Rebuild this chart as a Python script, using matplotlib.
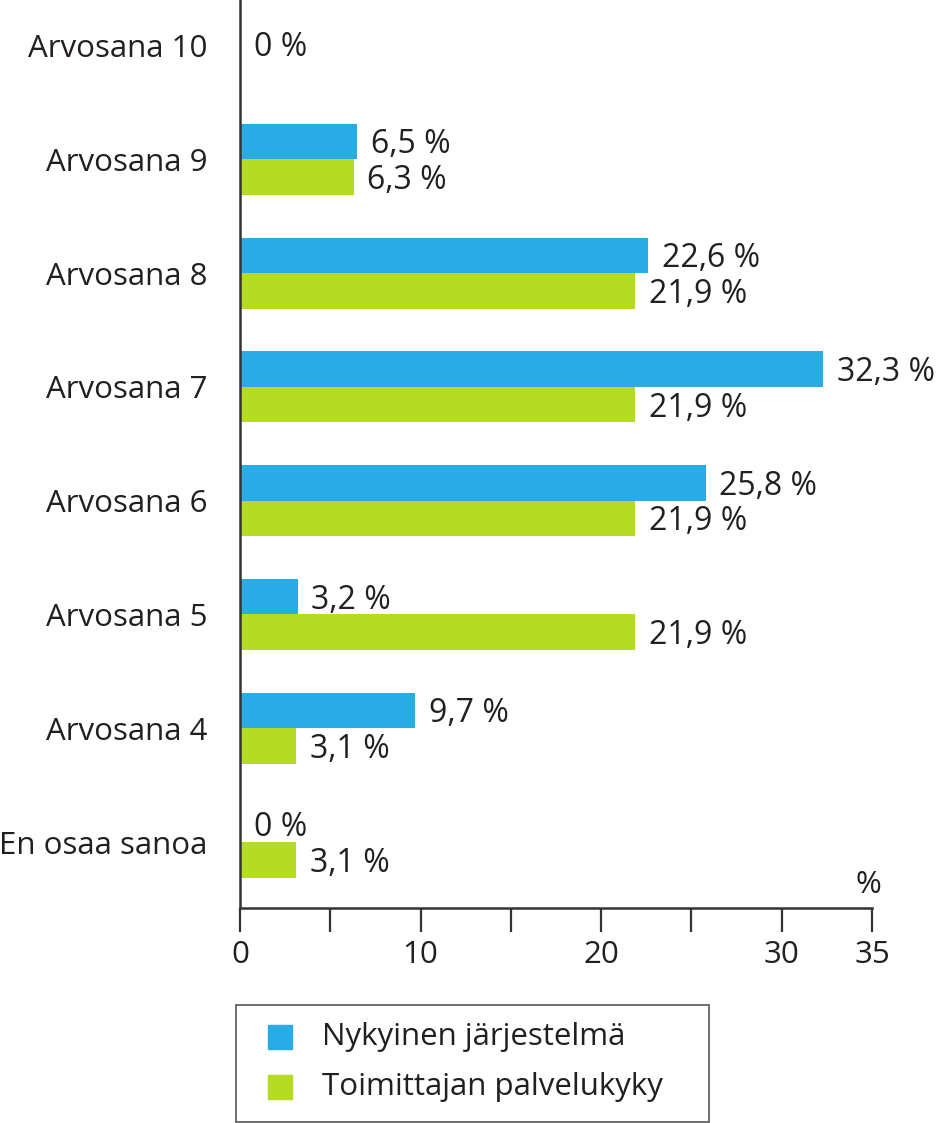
import matplotlib
matplotlib.use("Agg")
import matplotlib.pyplot as plt
from matplotlib.patches import Rectangle

categories = ["Arvosana 10", "Arvosana 9", "Arvosana 8", "Arvosana 7",
              "Arvosana 6", "Arvosana 5", "Arvosana 4", "En osaa sanoa"]
nykyinen = [0, 6.5, 22.6, 32.3, 25.8, 3.2, 9.7, 0]
toimittaja = [0, 6.3, 21.9, 21.9, 21.9, 21.9, 3.1, 3.1]
series_names = ["Nykyinen järjestelmä", "Toimittajan palvelukyky"]
xticks_major = [0, 10, 20, 30, 35]
xticks_minor = [5, 15, 25]

BLUE = "#29ABE6"
GREEN = "#B5DC22"
TXT = "#231F20"
FONT = "Open Sans"
FS = 22.5

plt.rcParams['font.family'] = [FONT, 'DejaVu Sans']

fig = plt.figure(figsize=(9.43, 11.23), dpi=100)
ax = fig.add_axes([240/943, 1-908/1123, (872-240)/943, 908/1123])

h = 0.312
ys = list(range(len(categories)))
ax.barh([y - h/2 for y in ys], nykyinen, height=h, color=BLUE, label=series_names[0])
ax.barh([y + h/2 for y in ys], toimittaja, height=h, color=GREEN, label=series_names[1])

def fmt(v):
    s = f"{v:.1f}".replace(".", ",")
    if s.endswith(",0"):
        s = s[:-2]
    return s + " %"

off = 0.75
for i, (a, b) in enumerate(zip(nykyinen, toimittaja)):
    if a == 0 and b == 0:
        ax.text(off, i + 0.02, fmt(0), va="center", ha="left", fontsize=FS + 0.5, color=TXT)
        continue
    ax.text(a + off, i - h/2 + 0.03, fmt(a), va="center", ha="left", fontsize=FS + 0.5, color=TXT)
    ax.text(b + off, i + h/2 + 0.03, fmt(b), va="center", ha="left", fontsize=FS + 0.5, color=TXT)

ax.set_xlim(0, 35)
ax.set_ylim(7.58, -0.4)
ax.set_yticks(ys)
ax.set_yticklabels(categories, fontsize=FS, color=TXT)
ax.tick_params(axis="y", length=0, pad=23.5)
ax.set_xticks(xticks_major)
ax.set_xticks(xticks_minor, minor=True)
ax.set_xticklabels([str(t) for t in xticks_major], fontsize=FS, color=TXT)
ax.tick_params(axis="x", which="both", direction="out", length=17, width=1.6, color="#333333", pad=6)
for s in ["top", "right"]:
    ax.spines[s].set_visible(False)
for s in ["left", "bottom"]:
    ax.spines[s].set_color("#333333")
    ax.spines[s].set_linewidth(1.8)

ax.text(34.8, 7.38, "%", ha="center", va="center", fontsize=FS, color=TXT)

# legend box
lx0, ly0, lx1, ly1 = 236/943, 1-1122/1123, 709/943, 1-1005/1123
fig.patches.append(Rectangle((lx0, ly0), lx1-lx0, ly1-ly0, transform=fig.transFigure,
                             fill=False, edgecolor="#555555", linewidth=1.2))
for k, (name, col, yy) in enumerate([(series_names[0], BLUE, 1037), (series_names[1], GREEN, 1087)]):
    fig.patches.append(Rectangle((268/943, 1-(yy+12)/1123), 24/943, 24/1123,
                                 transform=fig.transFigure, color=col))
    fig.text(322/943, 1-yy/1123, name, ha="left", va="center", fontsize=FS, color=TXT)

fig.savefig("out.png", dpi=100)
